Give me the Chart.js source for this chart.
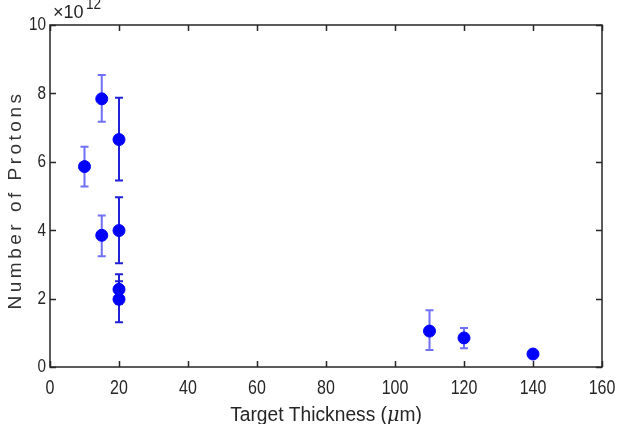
<!DOCTYPE html>
<html><head><meta charset="utf-8">
<script src="https://cdn.jsdelivr.net/npm/chart.js@4.4.1/dist/chart.umd.min.js"></script>
<style>html,body{margin:0;padding:0;background:#fff}#wrap{width:617px;height:424px}</style>
</head><body><div id="wrap"><canvas id="c" width="617" height="424"></canvas></div>
<script>
// Data (thickness in µm, protons in units of 1e12)
const xTicks = [0, 20, 40, 60, 80, 100, 120, 140, 160];
const yTicks = [0, 2, 4, 6, 8, 10];
const thicknessA = [10, 15, 15, 110, 120, 140];
const protonsA   = [5.86, 7.84, 3.85, 1.05, 0.85, 0.38];
const lowA       = [5.28, 7.17, 3.24, 0.50, 0.55, 0.33];
const highA      = [6.44, 8.54, 4.43, 1.66, 1.14, 0.43];
const thicknessB = [20, 20, 20, 20];
const protonsB   = [6.65, 3.99, 2.27, 1.98];
const lowB       = [5.45, 3.03, 1.85, 1.31];
const highB      = [7.87, 4.96, 2.71, 2.51];

const SANS = '"Liberation Sans", Arial, sans-serif';
const AX = '#262626';

function pts(xs, ys, lo, hi) { return xs.map((x, i) => ({x, y: ys[i], lo: lo[i], hi: hi[i]})); }

// draw text horizontally compressed by factor sx
function txt(ctx, s, x, y, font, sx, align, base) {
  ctx.save();
  ctx.font = font;
  ctx.textAlign = align || 'left';
  ctx.textBaseline = base || 'alphabetic';
  ctx.translate(x, y);
  ctx.scale(sx, 1);
  ctx.fillText(s, 0, 0);
  ctx.restore();
}

const decor = {
  id: 'decor',
  beforeDatasetsDraw(chart) {
    const {ctx, scales: {x, y}} = chart;
    const groups = [
      {ds: 0, color: 'rgba(50,50,245,0.7)'},
      {ds: 1, color: 'rgba(20,20,215,0.95)'}
    ];
    ctx.save();
    groups.forEach(g => {
      ctx.strokeStyle = g.color; ctx.lineWidth = 2;
      chart.data.datasets[g.ds].data.forEach(p => {
        const px = x.getPixelForValue(p.x);
        const yl = y.getPixelForValue(p.lo), yh = y.getPixelForValue(p.hi);
        ctx.beginPath();
        ctx.moveTo(px, yl); ctx.lineTo(px, yh);
        ctx.moveTo(px - 4, yl); ctx.lineTo(px + 4, yl);
        ctx.moveTo(px - 4, yh); ctx.lineTo(px + 4, yh);
        ctx.stroke();
      });
    });
    ctx.restore();
  },
  afterDraw(chart) {
    const {ctx, chartArea: a, scales: {x, y}} = chart;
    ctx.save();
    ctx.strokeStyle = AX; ctx.lineWidth = 1.5;
    ctx.strokeRect(a.left, a.top, a.right - a.left, a.bottom - a.top);
    ctx.beginPath();
    xTicks.forEach(v => {
      const px = Math.round(x.getPixelForValue(v)) + 0.5;
      ctx.moveTo(px, a.bottom); ctx.lineTo(px, a.bottom - 6);
      ctx.moveTo(px, a.top); ctx.lineTo(px, a.top + 6);
    });
    yTicks.forEach(v => {
      const py = Math.round(y.getPixelForValue(v)) + 0.5;
      ctx.moveTo(a.left, py); ctx.lineTo(a.left + 6, py);
      ctx.moveTo(a.right, py); ctx.lineTo(a.right - 6, py);
    });
    ctx.stroke();

    ctx.fillStyle = AX;
    // tick labels
    xTicks.forEach(v => txt(ctx, String(v), x.getPixelForValue(v), a.bottom + 21, '20px ' + SANS, 0.8, 'center', 'middle'));
    yTicks.forEach(v => txt(ctx, String(v), a.left - 4, y.getPixelForValue(v) + 0.5, '18px ' + SANS, 0.85, 'right', 'middle'));

    // exponent label
    txt(ctx, '\u00d710', a.left + 3, 18, '19px ' + SANS, 0.95, 'left');
    txt(ctx, '12', a.left + 36, 9, '16px ' + SANS, 0.85, 'left');

    // x title with italic mu
    const cx = (a.left + a.right) / 2;
    const sx = 0.96;
    const parts = [['Target Thickness (', '20px ' + SANS], ['\u03bc', 'italic 20px "DejaVu Serif", serif'], ['m)', '20px ' + SANS]];
    let w = 0;
    parts.forEach(p => { ctx.font = p[1]; w += ctx.measureText(p[0]).width * sx; });
    let px0 = cx - w / 2;
    parts.forEach(p => { txt(ctx, p[0], px0, 421, p[1], sx, 'left'); ctx.font = p[1]; px0 += ctx.measureText(p[0]).width * sx; });

    // y title
    ctx.translate(21, (a.top + a.bottom) / 2 + 4);
    ctx.rotate(-Math.PI / 2);
    ctx.textAlign = 'center';
    ctx.font = '19px ' + SANS;
    ctx.fillStyle = '#333';
    if ('letterSpacing' in ctx) ctx.letterSpacing = '3.5px';
    ctx.fillText('Number of Protons', 0, 0);
    ctx.restore();
  }
};

new Chart(document.getElementById('c'), {
  type: 'scatter',
  data: {
    datasets: [
      {data: pts(thicknessA, protonsA, lowA, highA), backgroundColor: '#0000ff', borderColor: '#0000ff', pointRadius: 6, pointHoverRadius: 6},
      {data: pts(thicknessB, protonsB, lowB, highB), backgroundColor: '#0000ff', borderColor: '#0000ff', pointRadius: 6, pointHoverRadius: 6}
    ]
  },
  options: {
    responsive: false,
    animation: false,
    layout: {padding: {left: 0, top: 25, right: 15, bottom: 0}},
    plugins: {legend: {display: false}, tooltip: {enabled: false}},
    scales: {
      x: {
        type: 'linear', min: 0, max: 160,
        afterBuildTicks: s => { s.ticks = xTicks.map(v => ({value: v})); },
        afterFit: s => { s.height = 57; },
        grid: {display: false, drawTicks: false},
        border: {display: false},
        ticks: {display: false}
      },
      y: {
        type: 'linear', min: 0, max: 10,
        afterBuildTicks: s => { s.ticks = yTicks.map(v => ({value: v})); },
        afterFit: s => { s.width = 50; },
        grid: {display: false, drawTicks: false},
        border: {display: false},
        ticks: {display: false}
      }
    }
  },
  plugins: [decor]
});
</script>
</body></html>
